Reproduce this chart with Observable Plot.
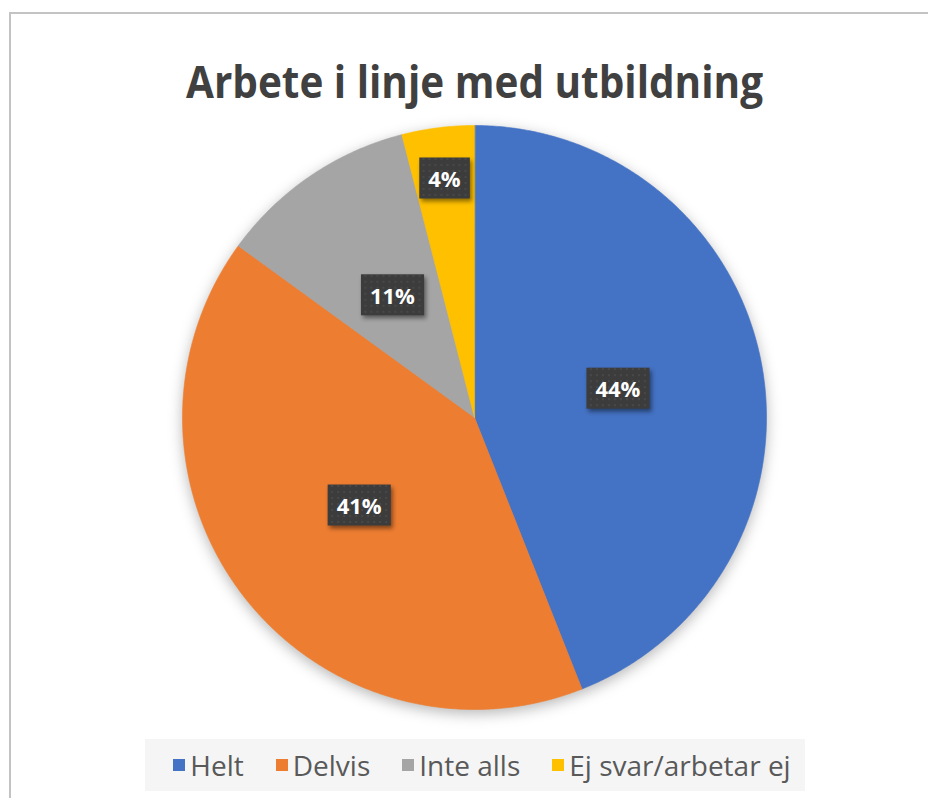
<!DOCTYPE html>
<html><head><meta charset="utf-8">
<script src="https://cdn.jsdelivr.net/npm/d3@7"></script>
<script src="https://cdn.jsdelivr.net/npm/@observablehq/plot@0.6"></script>
<style>
html,body{margin:0;padding:0;background:#fff;width:928px;height:798px;overflow:hidden;}
#frame{position:absolute;left:9px;top:12px;width:1000px;height:1000px;border:2px solid #c3c3c3;box-sizing:border-box;}
#chart{position:absolute;left:0;top:0;}
#legend{position:absolute;left:145px;top:739px;width:660px;height:52px;background:#f5f5f5;display:flex;align-items:center;justify-content:center;}
#legend .lg-swatches{font:28px "Open Sans",sans-serif !important;color:#595959 !important;margin:0 0 0 14px !important;min-height:0 !important;}
#legend .lg-swatch{margin-right:32px !important;}
#legend .lg-swatch:last-child{margin-right:0 !important;}
#legend .lg-swatch svg{margin-right:5px !important;}
</style></head><body>
<div id="frame"></div>
<div id="chart"></div>
<div id="legend"></div>
<script>
const categories = ["Helt", "Delvis", "Inte alls", "Ej svar/arbetar ej"];
const values = [44, 41, 11, 4];
const labels = ["44%", "41%", "11%", "4%"];
const colors = ["#4472C4", "#ED7D31", "#A5A5A5", "#FFC000"];
const title = "Arbete i linje med utbildning";

const table = categories.map((c, i) => ({key: c, value: values[i], label: labels[i]}));
const arcs = d3.pie().sort(null).value(d => d.value)(table);

const pts = [];
for (const a of arcs) {
  const n = Math.max(2, Math.ceil((a.endAngle - a.startAngle) / (Math.PI / 360)));
  pts.push({key: a.data.key, x: 0, y: 0});
  for (let k = 0; k <= n; k++) {
    const t = a.startAngle + (a.endAngle - a.startAngle) * k / n;
    pts.push({key: a.data.key, x: Math.sin(t), y: Math.cos(t)});
  }
}
const labelPts = arcs.map(a => {
  const m = (a.startAngle + a.endAngle) / 2;
  const r = a.data.value < 5 ? 0.82 : 0.5;
  return {label: a.data.label, x: r * Math.sin(m), y: r * Math.cos(m)};
});

const plot = Plot.plot({
  width: 928, height: 798,
  marginLeft: 182, marginRight: 162, marginTop: 125, marginBottom: 89,
  x: {domain: [-1, 1], axis: null},
  y: {domain: [-1, 1], axis: null},
  color: {domain: categories, range: colors},
  style: {background: "transparent", overflow: "visible"},
  marks: [
    Plot.line(pts, {x: "x", y: "y", z: "key", fill: "key", stroke: "key", strokeWidth: 0.6, curve: "linear-closed"}),
    Plot.text(labelPts, {x: "x", y: "y", text: "label", fill: "white", fontWeight: "bold", fontSize: 22, fontFamily: "Open Sans"}),
    Plot.text([title], {frameAnchor: "top", dy: -59, fontSize: 45, fontWeight: "bold", fill: "#404040", fontFamily: "Open Sans"})
  ]
});
document.getElementById("chart").appendChild(plot);

// decorations
const svg = d3.select(plot);
const defs = svg.insert("defs", ":first-child");
const pat = defs.append("pattern").attr("id", "dots").attr("width", 6).attr("height", 6).attr("patternUnits", "userSpaceOnUse");
pat.append("rect").attr("width", 6).attr("height", 6).attr("fill", "#3c3c3c");
pat.append("circle").attr("cx", 3).attr("cy", 3).attr("r", 0.8).attr("fill", "#575757");

svg.select('g[aria-label="line"]').style("filter", "drop-shadow(0px 4px 7px rgba(0,0,0,0.28))");

const textGroups = plot.querySelectorAll('g[aria-label="text"]');
const lg = textGroups[0];
const texts = Array.from(lg.querySelectorAll("text"));
for (const t of texts) {
  const b = t.getBBox();
  const w = b.width + 18, h = 41;
  const cx = b.x + b.width / 2, cy = b.y + b.height / 2;
  const r = document.createElementNS("http://www.w3.org/2000/svg", "rect");
  r.setAttribute("x", cx - w / 2);
  r.setAttribute("y", cy - h / 2);
  r.setAttribute("width", w);
  r.setAttribute("height", h);
  r.setAttribute("fill", "url(#dots)");
  r.setAttribute("style", "filter: drop-shadow(2px 3px 2px rgba(0,0,0,0.45))");
  if (t.getAttribute("transform")) r.setAttribute("transform", t.getAttribute("transform"));
  lg.insertBefore(r, t);
}
const tt = textGroups[1].querySelector("text");
tt.setAttribute("textLength", 577);
tt.setAttribute("lengthAdjust", "spacingAndGlyphs");

const legend = Plot.legend({
  color: {domain: categories, range: colors},
  legend: "swatches",
  swatchSize: 12,
  className: "lg"
});
document.getElementById("legend").appendChild(legend);
</script>
</body></html>
